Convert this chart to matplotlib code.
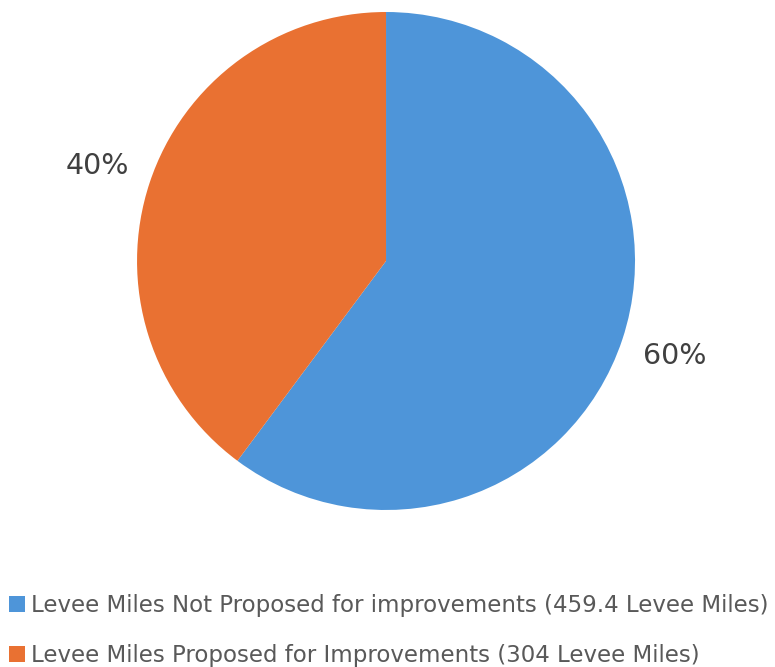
import matplotlib.pyplot as plt

labels = ["Levee Miles Not Proposed for improvements (459.4 Levee Miles)",
          "Levee Miles Proposed for Improvements (304 Levee Miles)"]
miles = [459.4, 304]
colors = ["#4E95D9", "#E97132"]

plt.rcParams['font.family'] = ['DejaVu Sans']

fig = plt.figure(figsize=(7.75, 6.67), dpi=100)
ax = fig.add_axes([0.1768, 0.2354, 0.6426, 0.7466])

wedges, texts, autotexts = ax.pie(
    miles, colors=colors, startangle=90, counterclock=False,
    autopct='%1.0f%%', pctdistance=1.22, radius=1.0,
    textprops=dict(fontsize=20.5, color='#404040'))
ax.set_aspect('equal')
ax.set_xlim(-1, 1)
ax.set_ylim(-1, 1)

fig.legend(wedges, labels, loc='center left', bbox_to_anchor=(0.0, 0.0545),
           frameon=False, fontsize=16.5, labelcolor='#595959',
           handlelength=0.7, handleheight=0.7, handletextpad=0.25,
           labelspacing=1.17, borderaxespad=0.0, borderpad=0.4)

fig.savefig('out.png', dpi=100, facecolor='white')
